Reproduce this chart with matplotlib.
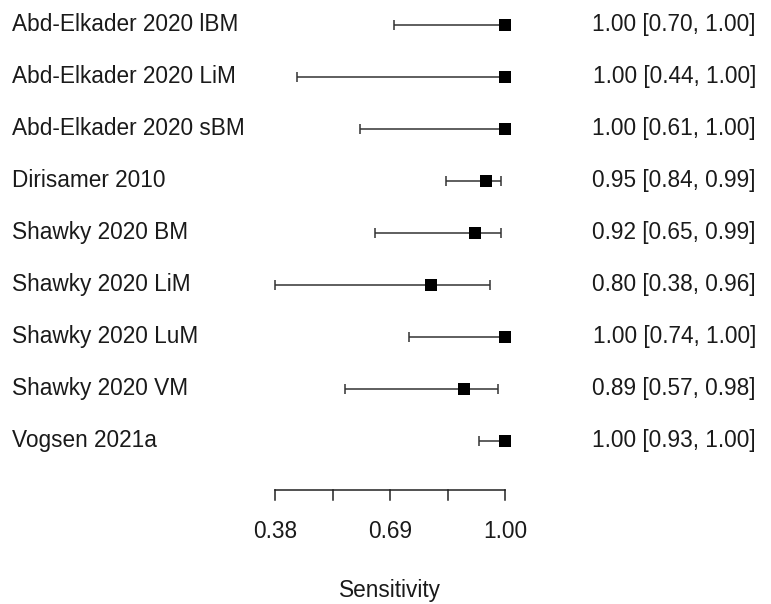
import matplotlib
matplotlib.use("Agg")
import matplotlib.pyplot as plt
import numpy as np

studies = ["Abd-Elkader 2020 lBM", "Abd-Elkader 2020 LiM", "Abd-Elkader 2020 sBM",
           "Dirisamer 2010", "Shawky 2020 BM", "Shawky 2020 LiM", "Shawky 2020 LuM",
           "Shawky 2020 VM", "Vogsen 2021a"]
est = [1.00, 1.00, 1.00, 0.95, 0.92, 0.80, 1.00, 0.89, 1.00]
lower = [0.70, 0.44, 0.61, 0.84, 0.65, 0.38, 0.74, 0.57, 0.93]
upper = [1.00, 1.00, 1.00, 0.99, 0.99, 0.96, 1.00, 0.98, 1.00]
tick_vals = [0.38, 0.535, 0.69, 0.845, 1.00]
tick_labels = ["0.38", "", "0.69", "", "1.00"]
xlabel = "Sensitivity"

plt.rcParams['font.family'] = ['Liberation Sans', 'DejaVu Sans']

W, H = 771, 604
fig = plt.figure(figsize=(W / 100, H / 100), dpi=100)
ax = fig.add_axes([0, 0, 1, 1])
ax.set_axis_off()

k = len(studies)
rows = np.arange(k, 0, -1)
# x: 0.38 -> 275px, 1.00 -> 505px
ppu = 230 / 0.62
x0 = 0.38 - 275 / ppu
x1 = 0.38 + (W - 275) / ppu
# y: row k at 25px, row 1 at 441px
rs = 52.0
ytop = k + 25 / rs
ybot = 1 - (H - 441) / rs
ax.set_xlim(x0, x1)
ax.set_ylim(ybot, ytop)

def px2x(p):
    return x0 + p / ppu

def px2y(p):
    return ytop - p / rs

est_a = np.array(est)
lo_a = np.array(lower)
hi_a = np.array(upper)
ax.errorbar(est_a, rows, xerr=[est_a - lo_a, hi_a - est_a], fmt='none',
            ecolor='#333333', elinewidth=1.1, capsize=3.6, capthick=1.1)
ax.plot(est_a, rows, 's', color='black', ms=8.0, mec='black', mew=0)

fs = 16.3
tc = '#1a1a1a'
for r, name, e, l, u in zip(rows, studies, est, lower, upper):
    ax.text(px2x(12), r, name, ha='left', va='center', fontsize=fs, color=tc)
    ax.text(px2x(756), r, f"{e:.2f} [{l:.2f}, {u:.2f}]", ha='right', va='center',
            fontsize=fs, color=tc)

# axis
yax = px2y(490)
ytk = px2y(500)
ax.plot([tick_vals[0], tick_vals[-1]], [yax, yax], color='#222222', lw=1.1)
for tv, tl in zip(tick_vals, tick_labels):
    ax.plot([tv, tv], [yax, ytk], color='#222222', lw=1.1)
    if tl:
        ax.text(tv, px2y(532), tl, ha='center', va='center', fontsize=fs, color=tc)
ax.text(0.69, px2y(590), xlabel, ha='center', va='center', fontsize=fs, color=tc)

fig.savefig("out.png", dpi=100)
